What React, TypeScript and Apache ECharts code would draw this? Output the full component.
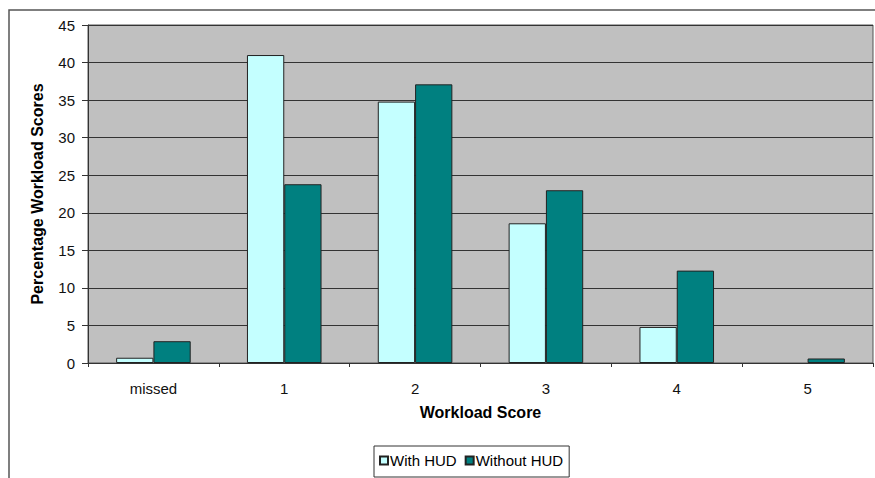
import React, { useEffect, useRef } from "react";
import * as echarts from "echarts";

const categories = ["missed", "1", "2", "3", "4", "5"];
const withHUD = [0.7, 41.0, 34.8, 18.6, 4.8, 0];
const withoutHUD = [2.9, 23.8, 37.1, 23.0, 12.3, 0.6];
const seriesNames = ["With HUD", "Without HUD"];

const toBarData = (arr: number[]) => arr.map((v) => (v === 0 ? "-" : v));

export default function App() {
  const ref = useRef<HTMLDivElement>(null);
  useEffect(() => {
    if (!ref.current) return;
    const chart = echarts.init(ref.current, null, { renderer: "svg" });
    const font = "'Liberation Sans', Arial, sans-serif";
    chart.setOption({
      animation: false,
      backgroundColor: "#ffffff",
      textStyle: { fontFamily: font },
      graphic: [
        {
          type: "rect",
          shape: { x: 9, y: 10, width: 900, height: 500 },
          style: { fill: "none", stroke: "#555", lineWidth: 1.5 },
          z: -10,
        },
      ],
      grid: {
        left: 88,
        right: 2,
        top: 25,
        bottom: 115,
        show: true,
        backgroundColor: "#c0c0c0",
        borderColor: "#555",
        borderWidth: 1,
      },
      legend: {
        data: seriesNames,
        left: 374,
        top: 446,
        icon: "rect",
        itemWidth: 8,
        itemHeight: 8,
        itemGap: 8,
        borderColor: "#333",
        borderWidth: 1,
        padding: [7, 6, 9, 5],
        textStyle: { fontSize: 15, color: "#000", fontFamily: font, padding: [0, 0, 0, -3] },
      },
      xAxis: {
        type: "category",
        data: categories,
        name: "Workload Score",
        nameLocation: "middle",
        nameGap: 41,
        nameTextStyle: { fontWeight: "bold", fontSize: 16, color: "#000" },
        axisLine: { show: true, lineStyle: { color: "#333", width: 1 } },
        axisTick: { show: true, length: 4, lineStyle: { color: "#333" } },
        axisLabel: { color: "#111", fontSize: 15, margin: 18 },
        splitLine: { show: false },
      },
      yAxis: {
        type: "value",
        min: 0,
        max: 45,
        interval: 5,
        name: "Percentage Workload Scores",
        nameLocation: "middle",
        nameGap: 43,
        nameTextStyle: { fontWeight: "bold", fontSize: 16, color: "#000" },
        axisLine: { show: true, lineStyle: { color: "#333", width: 1 } },
        axisTick: { show: true, length: 6, lineStyle: { color: "#333" } },
        axisLabel: { color: "#111", fontSize: 15, margin: 13 },
        splitLine: { show: true, lineStyle: { color: "#333", width: 1.2 } },
      },
      series: [
        {
          name: seriesNames[0],
          type: "bar",
          data: toBarData(withHUD),
          barGap: "0%",
          barCategoryGap: "43%",
          itemStyle: { color: "#c4ffff", borderColor: "#222", borderWidth: 1 },
        },
        {
          name: seriesNames[1],
          type: "bar",
          data: toBarData(withoutHUD),
          barGap: "0%",
          barCategoryGap: "43%",
          itemStyle: { color: "#008080", borderColor: "#222", borderWidth: 1 },
        },
      ],
    });
    return () => chart.dispose();
  }, []);
  return (
    <div
      ref={ref}
      style={{ position: "fixed", left: 0, top: 0, width: 875, height: 478 }}
    />
  );
}
